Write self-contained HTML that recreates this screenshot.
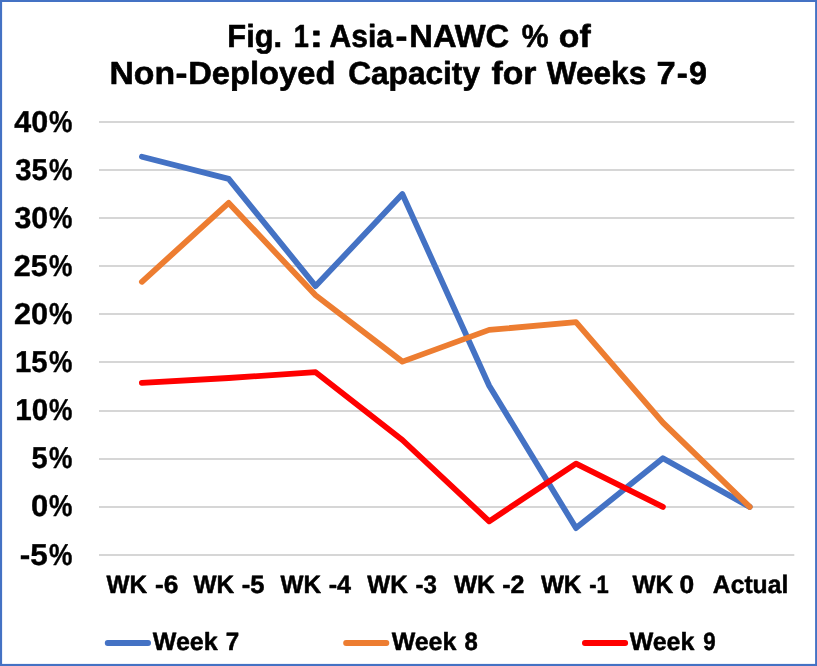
<!DOCTYPE html>
<html lang="en">
<head>
<meta charset="utf-8">
<title>Fig. 1: Asia-NAWC % of Non-Deployed Capacity for Weeks 7-9</title>
<style>
html,body{margin:0;padding:0;background:#fff;}
body{width:817px;height:666px;overflow:hidden;}
svg{display:block;}
text{font-family:'Liberation Sans', sans-serif;font-weight:bold;fill:#000;stroke:#000;stroke-linejoin:round;text-rendering:geometricPrecision;}
</style>
</head>
<body>
<svg width="817" height="666" viewBox="0 0 817 666">
<rect x="0" y="0" width="817" height="666" fill="#ffffff"/>
<rect x="1" y="0.9" width="815.2" height="664.1" fill="none" stroke="#4472c4" stroke-width="2.2"/>

<g stroke="#d6d6d6" stroke-width="2">
<line x1="99.0" x2="794.3" y1="122" y2="122"/>
<line x1="99.0" x2="794.3" y1="170" y2="170"/>
<line x1="99.0" x2="794.3" y1="218" y2="218"/>
<line x1="99.0" x2="794.3" y1="266" y2="266"/>
<line x1="99.0" x2="794.3" y1="314" y2="314"/>
<line x1="99.0" x2="794.3" y1="362" y2="362"/>
<line x1="99.0" x2="794.3" y1="411" y2="411"/>
<line x1="99.0" x2="794.3" y1="459" y2="459"/>
<line x1="99.0" x2="794.3" y1="507" y2="507"/>
<line x1="99.0" x2="794.3" y1="555" y2="555"/>
</g>
<g font-size="31.9" stroke-width="0.6">
<text y="47.4"><tspan x="227.36" textLength="54.71" lengthAdjust="spacingAndGlyphs">Fig.</tspan> <tspan x="293.76" textLength="15.11" lengthAdjust="spacingAndGlyphs">1</tspan><tspan x="309.67" textLength="13.32" lengthAdjust="spacingAndGlyphs">:</tspan> <tspan x="329.49" textLength="63.46" lengthAdjust="spacingAndGlyphs">Asia</tspan><tspan x="395.43" textLength="11.92" lengthAdjust="spacingAndGlyphs">-</tspan><tspan x="409.36" textLength="99.88" lengthAdjust="spacingAndGlyphs">NAWC</tspan> <tspan x="521.67" textLength="26.74" lengthAdjust="spacingAndGlyphs">%</tspan> <tspan x="558.88" textLength="31.83" lengthAdjust="spacingAndGlyphs">of</tspan></text>
<text y="84.2"><tspan x="109.49" textLength="65.66" lengthAdjust="spacingAndGlyphs">Non</tspan><tspan x="175.43" textLength="11.92" lengthAdjust="spacingAndGlyphs">-</tspan><tspan x="188.22" textLength="147.19" lengthAdjust="spacingAndGlyphs">Deployed</tspan> <tspan x="348.15" textLength="131.85" lengthAdjust="spacingAndGlyphs">Capacity</tspan> <tspan x="491.54" textLength="44.95" lengthAdjust="spacingAndGlyphs">for</tspan> <tspan x="546.72" textLength="99.55" lengthAdjust="spacingAndGlyphs">Weeks</tspan> <tspan x="656.64" textLength="19.19" lengthAdjust="spacingAndGlyphs">7</tspan><tspan x="676.73" textLength="11.02" lengthAdjust="spacingAndGlyphs">-</tspan><tspan x="689.05" textLength="17.94" lengthAdjust="spacingAndGlyphs">9</tspan></text>
</g>
<g font-size="30.2" stroke-width="0.4">
<text y="131.6"><tspan x="14.27" textLength="33.87" lengthAdjust="spacingAndGlyphs">40</tspan><tspan x="49.12" textLength="23.40" lengthAdjust="spacingAndGlyphs">%</tspan></text>
<text y="179.7"><tspan x="15.19" textLength="32.52" lengthAdjust="spacingAndGlyphs">35</tspan><tspan x="49.12" textLength="23.40" lengthAdjust="spacingAndGlyphs">%</tspan></text>
<text y="227.8"><tspan x="14.40" textLength="33.69" lengthAdjust="spacingAndGlyphs">30</tspan><tspan x="49.12" textLength="23.40" lengthAdjust="spacingAndGlyphs">%</tspan></text>
<text y="275.9"><tspan x="13.74" textLength="34.06" lengthAdjust="spacingAndGlyphs">25</tspan><tspan x="49.12" textLength="23.40" lengthAdjust="spacingAndGlyphs">%</tspan></text>
<text y="324.0"><tspan x="13.95" textLength="34.09" lengthAdjust="spacingAndGlyphs">20</tspan><tspan x="49.12" textLength="23.40" lengthAdjust="spacingAndGlyphs">%</tspan></text>
<text y="372.1"><tspan x="14.97" textLength="32.59" lengthAdjust="spacingAndGlyphs">15</tspan><tspan x="49.12" textLength="23.40" lengthAdjust="spacingAndGlyphs">%</tspan></text>
<text y="420.2"><tspan x="15.23" textLength="32.88" lengthAdjust="spacingAndGlyphs">10</tspan><tspan x="49.12" textLength="23.40" lengthAdjust="spacingAndGlyphs">%</tspan></text>
<text y="468.3"><tspan x="31.56" textLength="16.14" lengthAdjust="spacingAndGlyphs">5</tspan><tspan x="49.12" textLength="23.40" lengthAdjust="spacingAndGlyphs">%</tspan></text>
<text y="516.4"><tspan x="30.96" textLength="17.20" lengthAdjust="spacingAndGlyphs">0</tspan><tspan x="49.12" textLength="23.40" lengthAdjust="spacingAndGlyphs">%</tspan></text>
<text y="564.5"><tspan x="19.82" textLength="28.02" lengthAdjust="spacingAndGlyphs">-5</tspan><tspan x="49.12" textLength="23.40" lengthAdjust="spacingAndGlyphs">%</tspan></text>
</g>
<g font-size="25.2" stroke-width="0.5">
<text y="592.6"><tspan x="106.55" textLength="40.59" lengthAdjust="spacingAndGlyphs">WK</tspan> <tspan x="154.95" textLength="23.38" lengthAdjust="spacingAndGlyphs">-6</tspan></text>
<text y="592.6"><tspan x="193.45" textLength="40.69" lengthAdjust="spacingAndGlyphs">WK</tspan> <tspan x="241.67" textLength="22.74" lengthAdjust="spacingAndGlyphs">-5</tspan></text>
<text y="592.6"><tspan x="280.44" textLength="40.54" lengthAdjust="spacingAndGlyphs">WK</tspan> <tspan x="328.67" textLength="22.31" lengthAdjust="spacingAndGlyphs">-4</tspan></text>
<text y="592.6"><tspan x="367.26" textLength="40.42" lengthAdjust="spacingAndGlyphs">WK</tspan> <tspan x="415.54" textLength="21.39" lengthAdjust="spacingAndGlyphs">-3</tspan></text>
<text y="592.6"><tspan x="453.93" textLength="40.79" lengthAdjust="spacingAndGlyphs">WK</tspan> <tspan x="502.19" textLength="22.28" lengthAdjust="spacingAndGlyphs">-2</tspan></text>
<text y="592.6"><tspan x="540.89" textLength="40.56" lengthAdjust="spacingAndGlyphs">WK</tspan> <tspan x="589.28" textLength="19.50" lengthAdjust="spacingAndGlyphs">-1</tspan></text>
<text y="592.6"><tspan x="632.53" textLength="40.78" lengthAdjust="spacingAndGlyphs">WK</tspan> <tspan x="679.59" textLength="14.69" lengthAdjust="spacingAndGlyphs">0</tspan></text>
<text y="592.6"><tspan x="712.84" textLength="75.44" lengthAdjust="spacingAndGlyphs">Actual</tspan></text>
</g>
<g font-size="25.0" stroke-width="0.5">
<text y="650.3"><tspan x="152.83" textLength="64.84" lengthAdjust="spacingAndGlyphs">Week</tspan> <tspan x="225.68" textLength="13.43" lengthAdjust="spacingAndGlyphs">7</tspan></text>
<text y="650.3"><tspan x="391.68" textLength="64.69" lengthAdjust="spacingAndGlyphs">Week</tspan> <tspan x="464.53" textLength="13.26" lengthAdjust="spacingAndGlyphs">8</tspan></text>
<text y="650.3"><tspan x="629.68" textLength="64.69" lengthAdjust="spacingAndGlyphs">Week</tspan> <tspan x="703.18" textLength="12.44" lengthAdjust="spacingAndGlyphs">9</tspan></text>
</g>
<g>
<polyline fill="none" stroke="#4472c4" stroke-width="5.8" stroke-linecap="round" stroke-linejoin="round" points="141.9,156.7 228.7,178.9 315.6,286.1 402.4,194.1 489.2,385.7 576.0,528.1 662.9,458.3 749.7,506.9"/>
<polyline fill="none" stroke="#ed7d31" stroke-width="5.8" stroke-linecap="round" stroke-linejoin="round" points="141.9,281.8 228.7,202.9 315.6,295.3 402.4,361.6 489.2,329.9 576.0,322.2 662.9,422.7 749.7,506.9"/>
<polyline fill="none" stroke="#ff0000" stroke-width="5.8" stroke-linecap="round" stroke-linejoin="round" points="141.9,382.8 228.7,378.0 315.6,372.2 402.4,440.0 489.2,521.3 576.0,463.6 662.9,506.9"/>
</g>
<g stroke-width="5.8" stroke-linecap="round">
<line x1="107.7" x2="148.1" y1="643" y2="643" stroke="#4472c4"/>
<line x1="346.1" x2="386.4" y1="643" y2="643" stroke="#ed7d31"/>
<line x1="584.9" x2="625.2" y1="643" y2="643" stroke="#ff0000"/>
</g>
</svg>
</body>
</html>
